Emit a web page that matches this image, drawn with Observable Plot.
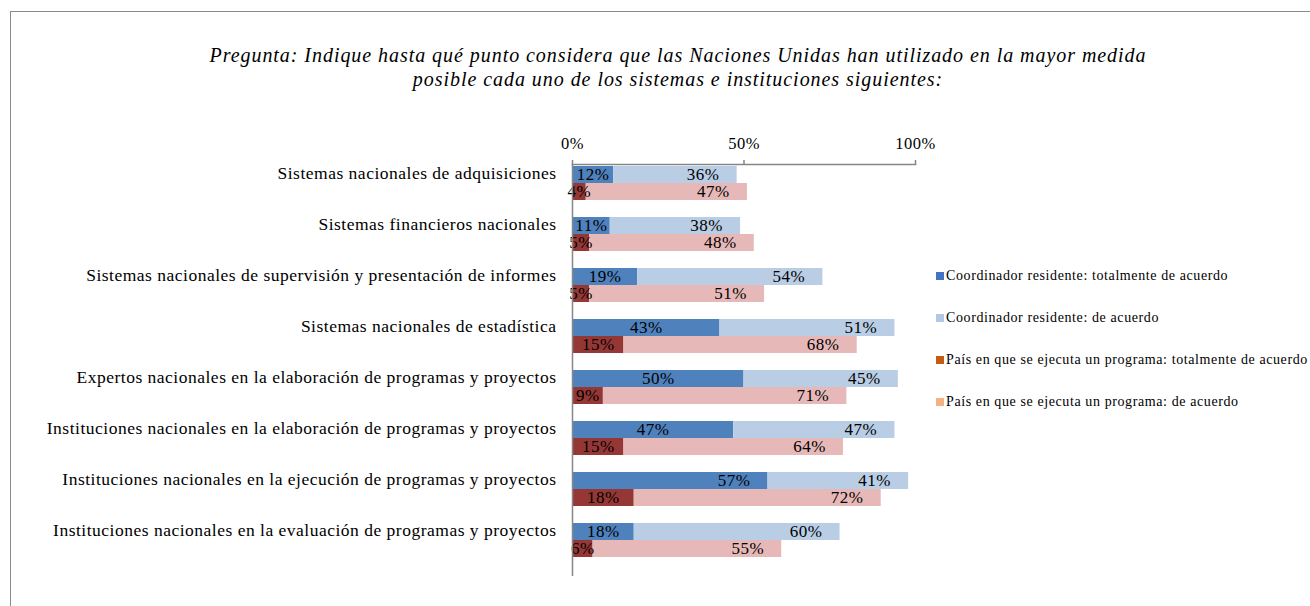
<!DOCTYPE html>
<html>
<head>
<meta charset="utf-8">
<script src="https://cdn.jsdelivr.net/npm/d3@7"></script>
<script src="https://cdn.jsdelivr.net/npm/@observablehq/plot@0.6"></script>
<style>
  html, body { margin: 0; padding: 0; background: #fff; }
  #wrap { position: relative; width: 1310px; height: 606px; overflow: hidden; font-family: "Liberation Serif", "Times New Roman", serif; }
  #border { position: absolute; left: 10px; top: 11px; width: 1310px; height: 620px; border-top: 1.5px solid #8a8a8a; border-left: 1.5px solid #8a8a8a; box-sizing: border-box; }
  #title { position: absolute; left: 0; width: 1356px; top: 43px; text-align: center; font-family: "Liberation Serif", "Times New Roman", serif; font-style: italic; font-size: 20px; letter-spacing: 0.95px; line-height: 24px; color: #000; }
  #chart { position: absolute; left: 0; top: 0; }
  #legend { position: absolute; left: 936px; top: 266px; font-family: "Liberation Serif", "Times New Roman", serif; font-size: 14px; letter-spacing: 0.6px; color: #000; }
  .item { position: absolute; white-space: nowrap; display: flex; align-items: center; height: 20px; }
  .sw { width: 8px; height: 8px; margin-right: 2px; display: inline-block; }
</style>
</head>
<body>
<div id="wrap">
  <div id="chart"></div>
  <div id="border"></div>
  <div id="title">Pregunta: Indique hasta qué punto considera que las Naciones Unidas han utilizado en la mayor medida<br>posible cada uno de los sistemas e instituciones siguientes:</div>
  <div id="legend"></div>
</div>
<script>
const categories = [
  "Sistemas nacionales de adquisiciones",
  "Sistemas financieros nacionales",
  "Sistemas nacionales de supervisión y presentación de informes",
  "Sistemas nacionales de estadística",
  "Expertos nacionales en la elaboración de programas y proyectos",
  "Instituciones nacionales en la elaboración de programas y proyectos",
  "Instituciones nacionales en la ejecución de programas y proyectos",
  "Instituciones nacionales en la evaluación de programas y proyectos"
];
const rcTotal = [12, 11, 19, 43, 50, 47, 57, 18];
const rcAgree = [36, 38, 54, 51, 45, 47, 41, 60];
const pcTotal = [4, 5, 5, 15, 9, 15, 18, 6];
const pcAgree = [47, 48, 51, 68, 71, 64, 72, 55];
const seriesNames = [
  "Coordinador residente: totalmente de acuerdo",
  "Coordinador residente: de acuerdo",
  "País en que se ejecuta un programa: totalmente de acuerdo",
  "País en que se ejecuta un programa: de acuerdo"
];
const xTicks = [0, 0.5, 1];

const barColors = ["#4F81BD", "#B9CDE5", "#953735", "#E6B9B8"];
const legendColors = ["#4472C4", "#B4C7E7", "#C55A11", "#F4B183"];
// label of this first segment sits near the segment end, as in the original
const endPlacedFirst = new Set([categories[6] + "|RC"]);

const keys = [];
categories.forEach(c => { keys.push(c + "|RC", c + "|PC", c + "|gap"); });

const rows = [];
categories.forEach((c, i) => {
  [["RC", rcTotal[i], rcAgree[i], 0], ["PC", pcTotal[i], pcAgree[i], 2]].forEach(([g, a, b, s]) => {
    const key = c + "|" + g;
    rows.push({key, series: seriesNames[s], x1: 0, x2: a / 100, label: a + "%", part: 1});
    rows.push({key, series: seriesNames[s + 1], x1: a / 100, x2: (a + b) / 100, label: b + "%", part: 2});
  });
});

const firstCentered = rows.filter(d => d.part === 1 && !endPlacedFirst.has(d.key));
const endLabels = rows.filter(d => d.part === 2 || endPlacedFirst.has(d.key));

const plot = Plot.plot({
  width: 1310,
  height: 606,
  marginLeft: 572,
  marginRight: 395,
  marginTop: 164,
  marginBottom: 30,
  style: {background: "transparent", fontFamily: "'Liberation Serif', 'Times New Roman', serif", fontSize: "17px", letterSpacing: "0.5px", color: "#000"},
  x: {domain: [0, 1]},
  y: {domain: keys, padding: 0},
  color: {domain: seriesNames, range: barColors},
  marks: [
    Plot.barX(rows, {x1: "x1", x2: "x2", y: "key", fill: "series", inset: 0}),
    Plot.text(firstCentered, {x: d => (d.x1 + d.x2) / 2, y: "key", text: "label", fontSize: 17, fill: "#000"}),
    Plot.text(endLabels, {x: "x2", y: "key", text: "label", dx: -34, fontSize: 17, fill: "#000"}),
    Plot.ruleX([0], {stroke: "#868686", strokeWidth: 1.5}),
    Plot.frame({anchor: "top", stroke: "#868686", strokeWidth: 1.5}),
    Plot.axisX({anchor: "top", ticks: xTicks, tickFormat: d3.format(".0%"), tickSize: 5, tickPadding: 11, stroke: "#868686", strokeWidth: 1.5, fontSize: 16.5, fill: "#000", label: null}),
    Plot.axisY({ticks: keys.filter(k => k.endsWith("|RC")), tickFormat: k => k.split("|")[0], tickSize: 0, tickPadding: 16, dy: -2, fontSize: 17.5, fill: "#000", label: null})
  ]
});
document.getElementById("chart").appendChild(plot);

const legend = document.getElementById("legend");
seriesNames.forEach((name, i) => {
  const item = document.createElement("div");
  item.className = "item";
  item.style.top = (i * 42) + "px";
  const sw = document.createElement("span");
  sw.className = "sw";
  sw.style.background = legendColors[i];
  item.appendChild(sw);
  item.appendChild(document.createTextNode(name));
  legend.appendChild(item);
});
</script>
</body>
</html>
